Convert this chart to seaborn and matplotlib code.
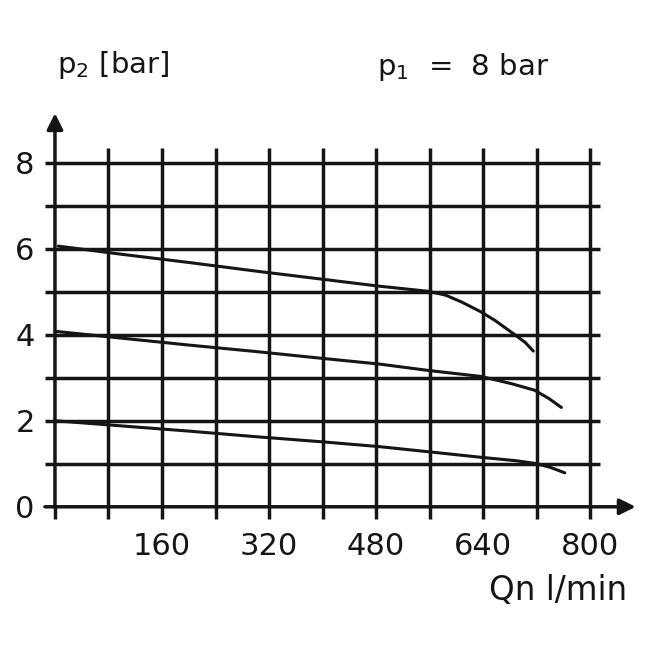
import numpy as np
import pandas as pd
import matplotlib
matplotlib.use("Agg")
import matplotlib.pyplot as plt
import seaborn as sns

# p2 curves (Qn in l/min, p2 in bar), p1 = 8 bar
flow_6 = [5, 100, 200, 300, 400, 484, 558, 584, 608, 637, 658, 683, 703, 715]
p2_6 = [6.06, 5.87, 5.68, 5.48, 5.29, 5.13, 5.01, 4.92, 4.76, 4.53, 4.33, 4.05, 3.82, 3.62]
flow_4 = [0, 100, 200, 300, 400, 484, 558, 637, 683, 717, 738, 757]
p2_4 = [4.08, 3.92, 3.76, 3.61, 3.45, 3.32, 3.17, 3.03, 2.86, 2.71, 2.52, 2.31]
flow_2 = [0, 100, 200, 300, 400, 484, 558, 637, 690, 717, 740, 762]
p2_2 = [2.0, 1.88, 1.76, 1.63, 1.51, 1.40, 1.28, 1.15, 1.07, 1.01, 0.92, 0.79]

x_ticks = [160, 320, 480, 640, 800]
y_ticks = [0, 2, 4, 6, 8]
x_grid = np.arange(80, 801, 80)
y_grid = np.arange(1, 9)

df = pd.concat([
    pd.DataFrame({"Qn": flow_6, "p2": p2_6, "set": "6"}),
    pd.DataFrame({"Qn": flow_4, "p2": p2_4, "set": "4"}),
    pd.DataFrame({"Qn": flow_2, "p2": p2_2, "set": "2"}),
])

sns.set_style("white")
plt.rcParams["font.family"] = ["DejaVu Sans"]
plt.rcParams["mathtext.default"] = "regular"

ink = "#151515"
fig = plt.figure(figsize=(6.55, 6.55), dpi=100)
ax = fig.add_axes([0.0635, 0.20, 0.909, 0.637])
ax.set_xlim(-20, 870)
ax.set_ylim(-0.4, 9.3)
for s in ax.spines.values():
    s.set_visible(False)

lw = 2.5
ax.hlines(y_grid, -15, 815, color=ink, lw=lw)
ax.vlines(x_grid, -0.28, 8.33, color=ink, lw=lw)
ax.vlines(0, -0.28, 0, color=ink, lw=lw)
ax.annotate("", xy=(868, 0), xytext=(-15, 0),
            arrowprops=dict(arrowstyle="-|>", lw=lw, color=ink,
                            mutation_scale=24, shrinkA=0, shrinkB=0))
ax.annotate("", xy=(0, 9.15), xytext=(0, -0.01),
            arrowprops=dict(arrowstyle="-|>", lw=lw, color=ink,
                            mutation_scale=24, shrinkA=0, shrinkB=0))

sns.lineplot(data=df, x="Qn", y="p2", hue="set", units="set", estimator=None,
             palette=[ink] * 3, lw=2.2, legend=False, ax=ax)

ax.set_xticks(x_ticks, labels=[str(v) for v in x_ticks])
ax.set_yticks(y_ticks, labels=[str(v) for v in y_ticks])
ax.tick_params(axis="x", length=0, labelsize=22, pad=6, colors=ink)
ax.tick_params(axis="y", length=0, labelsize=22, pad=5, colors=ink)
ax.set_xlabel("")
ax.set_ylabel("")

fig.text(0.087, 0.888, "p$_2$ [bar]", fontsize=21, va="baseline", color=ink)
fig.text(0.576, 0.886, "p$_1$  =  8 bar", fontsize=21, va="baseline", color=ink)
fig.text(0.957, 0.084, "Qn l/min", fontsize=23.5, va="baseline", ha="right", color=ink)

fig.savefig("out.png", dpi=100, facecolor="white")
